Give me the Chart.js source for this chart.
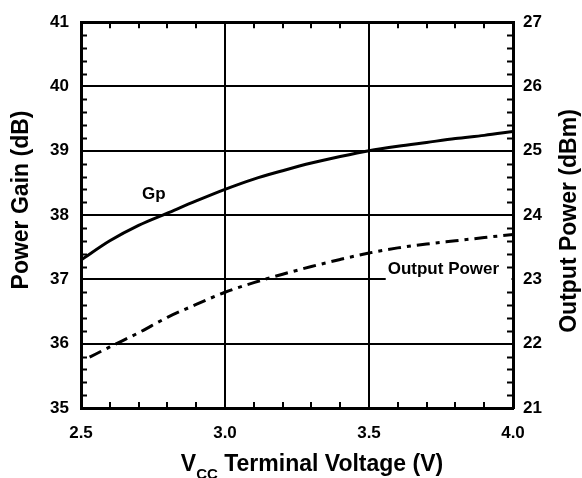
<!DOCTYPE html>
<html>
<head>
  <meta charset="utf-8">
  <title>Power Gain / Output Power vs VCC</title>
  <script src="https://cdn.jsdelivr.net/npm/chart.js"></script>
  <style>
    body { margin: 0; background: #fff; }
    #wrap { width: 582px; height: 478px; position: relative; }
  </style>
</head>
<body>
  <div id="wrap"><canvas id="myChart"></canvas></div>
  <script>
    // values
    const gainVoltage = [2.5, 2.6, 2.7, 2.8, 2.9, 3.0, 3.1, 3.2, 3.3, 3.4, 3.5, 3.6, 3.7, 3.8, 3.9, 4.0];
    const gainDb = [37.30, 37.60, 37.84, 38.03, 38.22, 38.40, 38.56, 38.69, 38.81, 38.91, 39.00, 39.07, 39.13, 39.19, 39.24, 39.30];
    const powerVoltage = [2.53, 2.6, 2.7, 2.8, 2.9, 3.0, 3.1, 3.2, 3.3, 3.4, 3.5, 3.6, 3.7, 3.8, 3.9, 4.0];
    const powerDbm = [21.79, 21.95, 22.17, 22.41, 22.61, 22.80, 22.95, 23.08, 23.20, 23.31, 23.41, 23.49, 23.55, 23.60, 23.65, 23.70];

    const xMajorTicks = [2.5, 3.0, 3.5, 4.0];
    const gainTicks = [35, 36, 37, 38, 39, 40, 41];
    const powerTicks = [21, 22, 23, 24, 25, 26, 27];

    const FONT = '"Liberation Sans", Arial, sans-serif';

    const curveLabels = {
      id: 'curveLabels',
      beforeDatasetsDraw(chart) {
        const ctx = chart.ctx;
        const x = chart.scales.x, y = chart.scales.y;
        ctx.save();
        ctx.font = 'bold 17px ' + FONT;
        ctx.textBaseline = 'middle';
        ctx.fillStyle = '#fff';
        const ox = x.getPixelForValue(3.565);
        const oy = y.getPixelForValue(37.16);
        ctx.fillRect(ox - 2, oy - 11, chart.chartArea.right - 1.5 - (ox - 2), 22);
        ctx.fillStyle = '#000';
        ctx.textAlign = 'left';
        ctx.fillText('Output Power', ox, oy);
        ctx.textAlign = 'center';
        ctx.fillText('Gp', x.getPixelForValue(2.753), y.getPixelForValue(38.33));
        ctx.restore();
      }
    };

    const minorTicks = {
      id: 'minorTicks',
      afterDraw(chart) {
        const ctx = chart.ctx;
        const a = chart.chartArea;
        const x = chart.scales.x, y = chart.scales.y, y1 = chart.scales.y1;
        ctx.save();
        ctx.strokeStyle = '#000';
        ctx.lineWidth = 2;
        ctx.beginPath();
        for (let i = 1; i < 15; i++) {
          if (i % 5 === 0) continue;
          const px = Math.round(x.getPixelForValue(2.5 + i * 0.1));
          ctx.moveTo(px, a.bottom); ctx.lineTo(px, a.bottom - 6);
          ctx.moveTo(px, a.top); ctx.lineTo(px, a.top + 6);
        }
        for (let i = 1; i < 30; i++) {
          if (i % 5 === 0) continue;
          const py = Math.round(y.getPixelForValue(35 + i * 0.2)) + 0.5;
          ctx.moveTo(a.left, py); ctx.lineTo(a.left + 6, py);
          const qy = Math.round(y1.getPixelForValue(21 + i * 0.2)) + 0.5;
          ctx.moveTo(a.right, qy); ctx.lineTo(a.right - 6, qy);
        }
        ctx.stroke();
        ctx.restore();
      }
    };

    const axisTitles = {
      id: 'axisTitles',
      afterDraw(chart) {
        const ctx = chart.ctx;
        ctx.save();
        ctx.fillStyle = '#000';
        ctx.font = 'bold 23px ' + FONT;
        ctx.textBaseline = 'middle';
        ctx.textAlign = 'center';

        ctx.save();
        ctx.translate(22, 200);
        ctx.rotate(-Math.PI / 2);
        ctx.fillText('Power Gain (dB)', 0, 0);
        ctx.restore();

        ctx.save();
        ctx.translate(570, 221);
        ctx.rotate(-Math.PI / 2);
        ctx.fillText('Output Power (dBm)', 0, 0);
        ctx.restore();

        // x title with subscript
        const big = 'bold 23px ' + FONT, small = 'bold 15px ' + FONT;
        const rest = ' Terminal Voltage (V)';
        ctx.font = big; const wV = ctx.measureText('V').width; const wR = ctx.measureText(rest).width;
        ctx.font = small; const wC = ctx.measureText('CC').width;
        const total = wV + wC + wR;
        let sx = 312 - total / 2;
        const base = 471;
        ctx.textAlign = 'left';
        ctx.textBaseline = 'alphabetic';
        ctx.font = big; ctx.fillText('V', sx, base); sx += wV;
        ctx.font = small; ctx.fillText('CC', sx, base + 8); sx += wC;
        ctx.font = big; ctx.fillText(rest, sx, base);
        ctx.restore();
      }
    };

    const edgeWidth = (ctx) => {
      const v = ctx.tick && ctx.tick.value;
      return (v === 35 || v === 41) ? 3 : 2;
    };

    const ctx = document.getElementById('myChart').getContext('2d');
    new Chart(ctx, {
      type: 'line',
      data: {
        datasets: [
          {
            label: 'Gp',
            data: gainVoltage.map((v, i) => ({ x: v, y: gainDb[i] })),
            yAxisID: 'y',
            borderColor: '#000',
            borderWidth: 3,
            pointRadius: 0,
            fill: false,
            cubicInterpolationMode: 'monotone'
          },
          {
            label: 'Output Power',
            data: powerVoltage.map((v, i) => ({ x: v, y: powerDbm[i] })),
            yAxisID: 'y1',
            borderColor: '#000',
            borderWidth: 3,
            borderDash: [13, 6, 4, 6],
            pointRadius: 0,
            fill: false,
            cubicInterpolationMode: 'monotone'
          }
        ]
      },
      options: {
        responsive: true,
        maintainAspectRatio: false,
        animation: false,
        layout: { padding: { top: 14, left: 0, right: 0, bottom: 0 } },
        plugins: {
          legend: { display: false },
          tooltip: { enabled: false }
        },
        scales: {
          x: {
            type: 'linear',
            min: 2.5,
            max: 4.0,
            afterBuildTicks: (s) => { s.ticks = xMajorTicks.map(v => ({ value: v })); },
            afterFit: (s) => { s.height = 70; },
            ticks: {
              color: '#000',
              font: { family: FONT, size: 17, weight: 'bold' },
              padding: 15,
              maxRotation: 0,
              callback: (v) => Number(v).toFixed(1)
            },
            grid: { color: '#000', lineWidth: 2, drawTicks: false },
            border: { color: '#000', width: 3 }
          },
          y: {
            position: 'left',
            min: 35,
            max: 41,
            afterBuildTicks: (s) => { s.ticks = gainTicks.map(v => ({ value: v })); },
            afterFit: (s) => { s.width = 81; },
            ticks: {
              color: '#000',
              font: { family: FONT, size: 17, weight: 'bold' },
              padding: 12
            },
            grid: { color: '#000', lineWidth: edgeWidth, drawTicks: false },
            border: { color: '#000', width: 3 }
          },
          y1: {
            position: 'right',
            min: 21,
            max: 27,
            afterBuildTicks: (s) => { s.ticks = powerTicks.map(v => ({ value: v })); },
            afterFit: (s) => { s.width = 69; },
            ticks: {
              color: '#000',
              font: { family: FONT, size: 17, weight: 'bold' },
              padding: 10
            },
            grid: { display: false, drawTicks: false },
            border: { color: '#000', width: 3 }
          }
        }
      },
      plugins: [curveLabels, minorTicks, axisTitles]
    });
  </script>
</body>
</html>
